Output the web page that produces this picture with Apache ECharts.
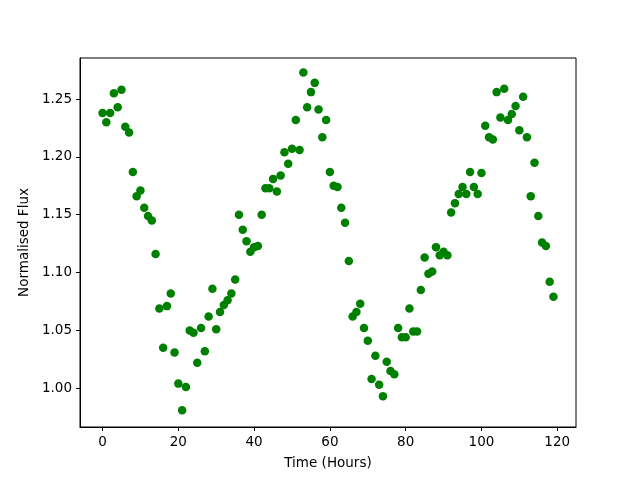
<!DOCTYPE html>
<html>
<head>
<meta charset="utf-8">
<script src="https://cdn.jsdelivr.net/npm/echarts@6/dist/echarts.min.js"></script>
<style>
  html, body { margin: 0; padding: 0; background: #fff; }
  #chart { width: 640px; height: 480px; }
</style>
</head>
<body>
<div id="chart"></div>
<script>
// hours 0..119, one reading per hour
var hours = [];
for (var h = 0; h < 120; h++) hours.push(h);

// normalised flux
var flux = [
  1.238, 1.230, 1.238, 1.255, 1.243, 1.258, 1.226, 1.221, 1.187, 1.166,
  1.171, 1.156, 1.149, 1.145, 1.116, 1.069, 1.035, 1.071, 1.082, 1.031,
  1.004, 0.981, 1.001, 1.050, 1.048, 1.022, 1.052, 1.032, 1.062, 1.086,
  1.051, 1.066, 1.072, 1.076, 1.082, 1.094, 1.150, 1.137, 1.127, 1.118,
  1.122, 1.123, 1.150, 1.173, 1.173, 1.181, 1.170, 1.184, 1.204, 1.194,
  1.207, 1.232, 1.206, 1.273, 1.243, 1.256, 1.264, 1.241, 1.217, 1.232,
  1.187, 1.175, 1.174, 1.156, 1.143, 1.110, 1.062, 1.066, 1.073, 1.052,
  1.041, 1.008, 1.028, 1.003, 0.993, 1.023, 1.015, 1.012, 1.052, 1.044,
  1.044, 1.069, 1.049, 1.049, 1.085, 1.113, 1.099, 1.101, 1.122, 1.115,
  1.118, 1.115, 1.152, 1.160, 1.168, 1.174, 1.168, 1.187, 1.174, 1.168,
  1.186, 1.227, 1.217, 1.215, 1.256, 1.234, 1.259, 1.232, 1.237, 1.244,
  1.223, 1.252, 1.217, 1.166, 1.195, 1.149, 1.126, 1.123, 1.092, 1.079
];

var xTicks = [0, 20, 40, 60, 80, 100, 120];
var yTicks = [1.00, 1.05, 1.10, 1.15, 1.20, 1.25];

var points = hours.map(function (t, i) { return [t, flux[i]]; });

var font = 'DejaVu Sans';
var chart = echarts.init(document.getElementById('chart'), null, {renderer: 'canvas'});

chart.setOption({
  animation: false,
  backgroundColor: '#fff',
  textStyle: {fontFamily: font},
  grid: {
    left: 80, right: 64, top: 58, bottom: 53,
    show: true, borderColor: '#000', borderWidth: 1
  },
  xAxis: {
    type: 'value',
    min: -5.95, max: 124.95,
    name: 'Time (Hours)',
    nameLocation: 'middle',
    nameGap: 29,
    nameTextStyle: {fontSize: 13.5, color: '#000', fontFamily: font},
    axisLine: {show: true, onZero: false, lineStyle: {color: '#000', width: 1}},
    axisTick: {show: true, inside: false, length: 4, customValues: xTicks,
               lineStyle: {color: '#000'}},
    axisLabel: {customValues: xTicks, margin: 8, fontSize: 13.5, color: '#000',
                fontFamily: font},
    splitLine: {show: false}
  },
  yAxis: {
    type: 'value',
    min: 0.9665, max: 1.2855,
    name: 'Normalised Flux',
    nameLocation: 'middle',
    nameGap: 46,
    nameRotate: 90,
    nameTextStyle: {fontSize: 13.5, color: '#000', fontFamily: font},
    axisLine: {show: true, onZero: false, lineStyle: {color: '#000', width: 1}},
    axisTick: {show: true, inside: false, length: 4, customValues: yTicks,
               lineStyle: {color: '#000'}},
    axisLabel: {customValues: yTicks, margin: 8, fontSize: 13.5, color: '#000',
                fontFamily: font,
                formatter: function (v) { return v.toFixed(2); }},
    splitLine: {show: false}
  },
  series: [{
    type: 'scatter',
    data: points,
    symbol: 'circle',
    symbolSize: 8.5,
    itemStyle: {color: '#008000', opacity: 1},
    emphasis: {disabled: true}
  }]
});
</script>
</body>
</html>
